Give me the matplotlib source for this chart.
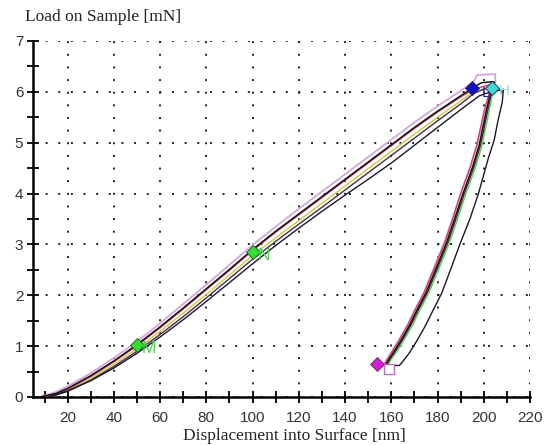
import matplotlib
matplotlib.use("Agg")
import matplotlib.pyplot as plt
from matplotlib.ticker import MultipleLocator

# ---- data ----
load_x = [8, 15, 20, 30, 40, 50, 60, 70, 80, 90, 100, 110, 120, 130, 140, 150, 160, 170, 180, 190, 196]
load_main = [0, 0.07, 0.17, 0.42, 0.71, 1.03, 1.38, 1.75, 2.13, 2.51, 2.90, 3.26, 3.60, 3.94, 4.28, 4.62, 4.96, 5.30, 5.62, 5.92, 6.10]
load_lav = [0, 0.10, 0.21, 0.47, 0.77, 1.09, 1.45, 1.83, 2.21, 2.60, 2.99, 3.35, 3.70, 4.04, 4.38, 4.72, 5.06, 5.40, 5.72, 6.02, 6.22]
load_red = [0, 0.06, 0.15, 0.40, 0.69, 1.01, 1.36, 1.73, 2.11, 2.49, 2.88, 3.24, 3.58, 3.92, 4.26, 4.60, 4.94, 5.28, 5.60, 5.90, 6.06]
load_yel = [0, 0.05, 0.13, 0.36, 0.64, 0.95, 1.29, 1.65, 2.02, 2.40, 2.78, 3.13, 3.47, 3.81, 4.15, 4.49, 4.83, 5.17, 5.50, 5.82, 6.02]
load_pur = [0, 0.04, 0.11, 0.33, 0.60, 0.90, 1.23, 1.58, 1.95, 2.33, 2.71, 3.06, 3.40, 3.73, 4.07, 4.41, 4.75, 5.09, 5.43, 5.76, 5.98]

hold_main_x = [196, 199, 204]
hold_main_y = [6.10, 6.18, 6.20]
hold_lav_x = [196, 197, 205]
hold_lav_y = [6.22, 6.33, 6.35]

unload_y = [6.2, 6.0, 5.6, 4.95, 4.5, 4.0, 3.45, 3.05, 2.6, 2.05, 1.7, 1.42, 1.1, 0.88, 0.74, 0.62]
unload_main = [204, 203, 201, 198, 195, 191, 187, 184, 180, 175, 171, 168, 164, 161, 159, 157.5]
unload_lav = [205, 203.5, 200.5, 197, 194, 190, 186, 183, 179, 174, 170, 167, 163, 160, 158, 156.5]
unload_red = [203.5, 202.5, 200, 197, 194, 190, 186.2, 183.2, 179.2, 174.2, 170.2, 167.2, 163.2, 160.2, 158.3, 157]
unload_yel = [204.5, 203.5, 201.5, 198.6, 195.6, 191.6, 187.6, 184.6, 180.6, 175.6, 171.6, 168.6, 164.6, 161.6, 159.6, 158]
unload_grn = [205, 204, 202.2, 199.3, 196.3, 192.3, 188.3, 185.3, 181.3, 176.3, 172.3, 169.3, 165.3, 162.2, 160, 158.5]
unload_pur = [204.5, 203.6, 201.6, 198.6, 195.6, 191.6, 187.6, 184.6, 180.6, 175.6, 171.6, 168.6, 164.6, 161.6, 159.6, 158.1]

outer_x = [12, 20, 30, 40, 50, 60, 70, 80, 90, 100, 110, 120, 130, 140, 150, 160, 170, 180, 190, 198,
           203, 208.5, 208, 206, 204.5, 202, 197.7, 194, 189.8, 186, 181.8, 178, 174.5, 171, 168, 165, 163.5, 159.5]
outer_y = [0, 0.12, 0.32, 0.57, 0.86, 1.18, 1.52, 1.88, 2.25, 2.62, 2.98, 3.32, 3.65, 3.97, 4.28, 4.60, 4.95, 5.30, 5.65, 5.92,
           6.0, 6.05, 5.8, 5.4, 5.05, 4.7, 4.0, 3.5, 3.02, 2.55, 2.04, 1.7, 1.38, 1.1, 0.88, 0.7, 0.62, 0.62]

diam_labels = ["M", "N", "L", "H"]
diam_x = [50, 100, 195, 203.5]
diam_y = [1.02, 2.86, 6.08, 6.07]
diam_colors = ["#33dd33", "#33dd33", "#1010c0", "#40d8d8"]
diam_text_colors = ["#55cc55", "#55cc55", "#2020a0", "#90e0e0"]
mag_x, mag_y = 154, 0.65
sq_x, sq_y = 159.2, 0.55

x_ticks = list(range(20, 221, 20))
y_ticks = list(range(0, 8))

# ---- figure ----
fig = plt.figure(figsize=(5.5, 4.45), dpi=100)
ax = fig.add_axes([33 / 550, 48 / 445, 497 / 550, 356 / 445])

def seg(xl, yl, xh, yh, xu, yu, color, lw):
    ax.plot(list(xl) + list(xh) + list(xu), list(yl) + list(yh) + list(yu), color=color, lw=lw, zorder=3)

seg(load_x, load_lav, hold_lav_x, hold_lav_y, unload_lav, unload_y, "#d4a6dc", 1.3)
seg(load_x, load_yel, [196, 204], [6.02, 6.10], unload_yel, unload_y, "#c8d050", 1.1)
seg(load_x, load_pur, [196, 204], [5.98, 6.12], unload_pur, unload_y, "#4a2a55", 1.0)
seg(load_x, load_red, [196, 203.5], [6.06, 6.15], unload_red, unload_y, "#d84060", 1.0)
ax.plot(unload_grn, unload_y, color="#60d060", lw=1.0, zorder=3)
seg(load_x, load_main, hold_main_x, hold_main_y, unload_main, unload_y, "#111111", 1.1)
ax.plot(outer_x, outer_y, color="#181830", lw=1.0, zorder=3)

for lab, x, y, c in zip(diam_labels, diam_x, diam_y, diam_colors):
    ax.plot([x], [y], marker="D", ms=7.5, mfc=c, mec="#1a5a1a" if lab in "MN" else "#202050",
            mew=0.6, zorder=5, linestyle="none")
for lab, x, y, tc in zip(diam_labels[:2], diam_x[:2], diam_y[:2], diam_text_colors[:2]):
    ax.text(x + 2.2, y - 0.07, lab, color=tc, fontsize=12.5, va="center", ha="left",
            family="Liberation Sans", zorder=6)
ax.text(199.3, 5.98, diam_labels[2], color=diam_text_colors[2], fontsize=11, va="center", ha="left",
        family="Liberation Sans", zorder=6)
ax.text(206.5, 6.02, diam_labels[3], color=diam_text_colors[3], fontsize=11, va="center", ha="left",
        family="Liberation Sans", zorder=6)
ax.plot([mag_x], [mag_y], marker="D", ms=7.5, mfc="#d020d0", mec="#602060", mew=0.6, zorder=5, linestyle="none")
ax.plot([sq_x], [sq_y], marker="s", ms=7, mfc="white", mec="#b070c0", mew=1.0, zorder=5, linestyle="none")

ax.set_xlim(5, 220)
ax.set_ylim(0, 7)
ax.xaxis.set_major_locator(MultipleLocator(20))
ax.xaxis.set_minor_locator(MultipleLocator(10))
ax.yaxis.set_major_locator(MultipleLocator(1))
ax.yaxis.set_minor_locator(MultipleLocator(0.5))
ax.set_xticks(x_ticks)
ax.set_yticks(y_ticks)
ax.grid(True, which="major", color="#222222", linestyle=(0, (1, 5.5)), linewidth=1.4)
ax.set_axisbelow(True)
for s in ["top", "right"]:
    ax.spines[s].set_visible(False)
for s in ["left", "bottom"]:
    ax.spines[s].set_linewidth(1.8)
    ax.spines[s].set_color("black")
ax.tick_params(which="both", direction="inout", length=8, width=1.3, colors="black",
               labelcolor="#333333", labelsize=11)
ax.tick_params(axis="x", pad=6)
ax.tick_params(axis="y", pad=3)
for lbl in ax.get_xticklabels() + ax.get_yticklabels():
    lbl.set_family("Liberation Sans")

fig.text(25 / 550, 1 - 17 / 445, "Load on Sample [mN]", family="Liberation Serif", fontsize=12.5,
         ha="left", va="center", color="#222222")
fig.text(294 / 550, 1 - 436 / 445, "Displacement into Surface [nm]", family="Liberation Serif",
         fontsize=12.5, ha="center", va="center", color="#222222")

fig.savefig("out.png", dpi=100, facecolor="white")
